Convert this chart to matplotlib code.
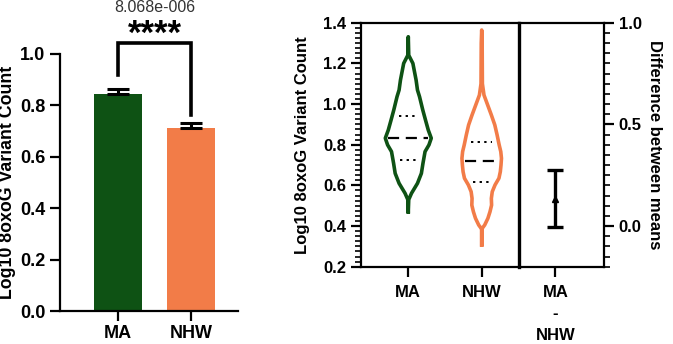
import numpy as np
import matplotlib
matplotlib.use("Agg")
import matplotlib.pyplot as plt
from matplotlib.ticker import MultipleLocator

plt.rcParams['font.family'] = ['Liberation Sans', 'DejaVu Sans']

# ---------------- data ----------------
groups = ["MA", "NHW"]
bar_means = [0.845, 0.711]
bar_sem = [0.019, 0.022]
p_text = "8.068e-006"
stars = "****"
bracket_top = 1.043
bracket_left_end = 0.918
bracket_right_end = 0.763

# violin outlines (y level, relative density)
ma_y = [0.470, 0.530, 0.561, 0.610, 0.659, 0.709, 0.766, 0.799, 0.832, 0.872,
        0.921, 0.971, 1.036, 1.069, 1.118, 1.200, 1.240, 1.331]
ma_d = [0.0, 0.02, 0.14, 0.40, 0.57, 0.64, 0.73, 0.90, 1.0, 0.87,
        0.75, 0.63, 0.49, 0.40, 0.34, 0.20, 0.02, 0.0]
nhw_y = [0.307, 0.385, 0.405, 0.438, 0.470, 0.503, 0.536, 0.569, 0.602, 0.635,
         0.667, 0.700, 0.733, 0.766, 0.799, 0.848, 0.897, 0.946, 0.995, 1.044,
         1.10, 1.30, 1.364]
nhw_d = [0.0, 0.0, 0.13, 0.27, 0.36, 0.43, 0.42, 0.46, 0.58, 0.75,
         0.81, 0.84, 0.86, 0.83, 0.76, 0.67, 0.57, 0.42, 0.26, 0.10,
         0.03, 0.02, 0.0]
ma_quart = [0.727, 0.831, 0.940]
nhw_quart = [0.616, 0.720, 0.814]

diff_label = "MA\n-\nNHW"
diff_mean = 0.134
diff_ci = [-0.005, 0.274]

colors = ["#0e5214", "#f27c48"]

# ---------------- figure ----------------
W, H = 673, 344
fig = plt.figure(figsize=(W / 100, H / 100), dpi=100)

def fr(x0, y0, x1, y1):
    return [x0 / W, 1 - y1 / H, (x1 - x0) / W, (y1 - y0) / H]

LW = 1.6

# ---- left bar chart ----
ax1 = fig.add_axes(fr(60, 54, 238, 311))
x = np.arange(len(groups))
ax1.bar(x, bar_means, width=0.67, color=colors, zorder=2)
for xi, m, e in zip(x, bar_means, bar_sem):
    ax1.errorbar(xi, m, yerr=[[0], [e]], color="black", lw=2.2, capsize=8,
                 capthick=2.2, zorder=3)
ax1.set_xlim(-0.795, 1.644)
ax1.set_ylim(0, 1.0)
ax1.set_yticks(np.arange(0, 1.01, 0.2))
ax1.set_yticklabels([f"{v:.1f}" for v in np.arange(0, 1.01, 0.2)])
ax1.set_xticks(x)
ax1.set_xticklabels(groups)
for s in ["top", "right"]:
    ax1.spines[s].set_visible(False)
for s in ["left", "bottom"]:
    ax1.spines[s].set_linewidth(LW)
ax1.tick_params(width=LW, length=7, labelsize=13)
ax1.tick_params(axis="x", pad=3)
for lab in ax1.get_xticklabels() + ax1.get_yticklabels():
    lab.set_fontweight("bold")
ax1.set_ylabel("Log10 8oxoG Variant Count", fontsize=12.8, fontweight="bold", labelpad=3)
# bracket
ax1.plot([0, 0, 1, 1], [bracket_left_end, bracket_top, bracket_top, bracket_right_end],
         color="black", lw=2.6, clip_on=False, solid_joinstyle="miter")
ax1.text(0.5, 1.077, stars, ha="center", va="center", fontsize=25, fontweight="bold",
         clip_on=False)
ax1.text(0.5, 1.182, p_text, ha="center", va="center", fontsize=11.5, color="#333333",
         clip_on=False)

# ---- violin panel ----
ax2 = fig.add_axes(fr(360.7, 22.7, 519, 266.7))
ax2.set_zorder(2)
ax2.patch.set_visible(False)
vw = 0.313
for xi, (yy, dd, q, c) in enumerate([(ma_y, ma_d, ma_quart, colors[0]),
                                     (nhw_y, nhw_d, nhw_quart, colors[1])]):
    yy = np.array(yy); dd = np.array(dd)
    xs = np.concatenate([xi - dd * vw, (xi + dd * vw)[::-1], [xi - dd[0] * vw]])
    ys = np.concatenate([yy, yy[::-1], [yy[0]]])
    ax2.plot(xs, ys, color=c, lw=2.6, solid_joinstyle="round")
    for k, qv in enumerate(q):
        hw = np.interp(qv, yy, dd) * vw - 0.04
        if k == 1:
            ax2.plot([xi - hw, xi + hw], [qv, qv], color="black", lw=1.6,
                     dashes=(5, 3))
        else:
            ax2.plot([xi - hw + 0.05, xi + hw - 0.05], [qv, qv], color="black", lw=1.4,
                     dashes=(1.2, 2.2))
ax2.set_xlim(-0.648, 1.508)
ax2.set_ylim(0.2, 1.4)
ax2.set_yticks(np.arange(0.2, 1.41, 0.2))
ax2.set_yticklabels([f"{v:.1f}" for v in np.arange(0.2, 1.41, 0.2)])
ax2.yaxis.set_minor_locator(MultipleLocator(0.025))
ax2.set_xticks([0, 1])
ax2.set_xticklabels(groups)
for s in ["left", "bottom", "top"]:
    ax2.spines[s].set_linewidth(LW)
ax2.spines["right"].set_linewidth(2.4)
ax2.tick_params(which="major", width=LW, length=7, labelsize=12)
ax2.tick_params(which="minor", width=1.2, length=4)
ax2.tick_params(axis="x", pad=6)
for lab in ax2.get_xticklabels() + ax2.get_yticklabels():
    lab.set_fontweight("bold")
ax2.set_ylabel("Log10 8oxoG Variant Count", fontsize=12, fontweight="bold", labelpad=9)

# ---- difference panel ----
ax3 = fig.add_axes(fr(519, 22.7, 604, 266.7))
ax3.patch.set_visible(False)
ax3.errorbar([0], [diff_mean],
             yerr=[[diff_mean - diff_ci[0]], [diff_ci[1] - diff_mean]],
             fmt="^", color="black", ms=5, lw=2.4, capsize=6, capthick=2.4)
ax3.set_xlim(-0.495, 0.663)
ax3.set_ylim(-0.2, 1.0)
ax3.spines["left"].set_visible(False)
for s in ["bottom", "top", "right"]:
    ax3.spines[s].set_linewidth(LW)
ax3.yaxis.tick_right()
ax3.yaxis.set_label_position("right")
ax3.set_yticks([0.0, 0.5, 1.0])
ax3.set_yticklabels(["0.0", "0.5", "1.0"])
ax3.yaxis.set_minor_locator(MultipleLocator(0.05))
ax3.set_xticks([0])
ax3.set_xticklabels([diff_label], linespacing=1.55)
ax3.tick_params(which="major", width=LW, length=7, labelsize=12)
ax3.tick_params(which="minor", width=1.2, length=4)
ax3.tick_params(axis="x", pad=6)
for lab in ax3.get_xticklabels() + ax3.get_yticklabels():
    lab.set_fontweight("bold")
ax3.set_ylabel("Difference between means", fontsize=12, fontweight="bold",
               rotation=270, labelpad=15)

fig.savefig("out.png", dpi=100)
